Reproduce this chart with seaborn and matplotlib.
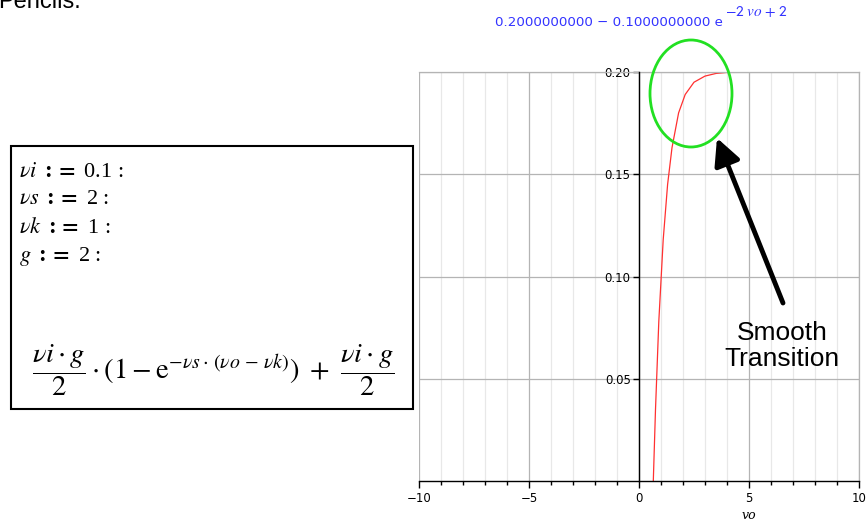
import matplotlib
matplotlib.use("Agg")
import matplotlib.pyplot as plt
import seaborn as sns
from matplotlib.patches import Ellipse, Rectangle, FancyArrowPatch
from matplotlib.ticker import MultipleLocator

# curve points (vo, value)
vo_vals = [0.65, 0.75, 0.9, 1.1, 1.3, 1.5, 1.8, 2.1, 2.5, 3.0, 3.5, 4.0, 10.0]
y_vals = [0.0, 0.035, 0.078, 0.118, 0.145, 0.163, 0.180, 0.189, 0.195, 0.198, 0.1993, 0.1998, 0.2]

x_ticks = [-10, -5, 0, 5, 10]
y_ticks = [0.05, 0.10, 0.15, 0.20]
y_tick_labels = ["0.05", "0.10", "0.15", "0.20"]

title_main = "0.2000000000 \u2212 0.1000000000 e"
title_exp = r"$\mathsf{-2}\ \mathit{vo}\ \mathsf{+\ 2}$"
maple_lines = [
    r"$\mathit{\nu i}$ $\mathbf{:=}$ 0.1 :",
    r"$\mathit{\nu s}$ $\mathbf{:=}$ 2 :",
    r"$\mathit{\nu k}$ $\mathbf{:=}$ 1 :",
    r"$\mathit{g}$ $\mathbf{:=}$ 2 :",
]
formula = (r"$\dfrac{\nu i\cdot g}{2}\cdot\left(1-\mathrm{e}^{-\nu s\cdot\,(\nu o\,-\,\nu k)}\right)"
           r"\ +\ \dfrac{\nu i\cdot g}{2}$")

sns.set_theme(style="white")
plt.rcParams["font.family"] = ["DejaVu Sans"]
plt.rcParams["mathtext.fontset"] = "stix"
plt.rcParams["text.color"] = "black"
plt.rcParams["xtick.color"] = "black"
plt.rcParams["ytick.color"] = "black"

W, H = 866, 525
fig = plt.figure(figsize=(W / 100, H / 100), dpi=100)
ax = fig.add_axes([419 / W, 1 - 481 / H, (859 - 419) / W, (481 - 72) / H])

sns.lineplot(x=vo_vals, y=y_vals, ax=ax, color="#ff3030", linewidth=0.9)

ax.set_xlim(-10, 10)
ax.set_ylim(0, 0.2)
ax.set_xticks(x_ticks)
ax.set_xticklabels([str(t).replace("-", "\u2212") for t in x_ticks])
ax.xaxis.set_minor_locator(MultipleLocator(1))
ax.set_yticks(y_ticks)
ax.set_yticklabels(y_tick_labels)

ax.grid(True, which="major", color="#b4b4b4", linewidth=0.9)
ax.grid(True, which="minor", axis="x", color="#e8e8e8", linewidth=0.9)
ax.set_axisbelow(True)

ax.spines["left"].set_position(("data", 0))
ax.spines["left"].set_color("black")
ax.spines["left"].set_linewidth(1.0)
ax.spines["left"].set_zorder(3)
ax.spines["bottom"].set_color("black")
ax.spines["bottom"].set_linewidth(1.0)
for s in ["top", "right"]:
    ax.spines[s].set_color("#b4b4b4")
    ax.spines[s].set_linewidth(0.9)

ax.tick_params(axis="x", which="major", direction="out", length=5, width=1, color="black",
               labelcolor="black", labelsize=8.5, pad=3, bottom=True)
ax.tick_params(axis="x", which="minor", direction="out", length=3, width=1, color="black", bottom=True)
ax.tick_params(axis="y", which="major", direction="out", length=4, width=1, color="black",
               labelcolor="black", labelsize=8.5, pad=2, left=True)

ax.text(5, -0.085, "vo", transform=ax.get_xaxis_transform(), ha="center", va="center",
        family="DejaVu Serif", style="italic", fontsize=9)

# blue Maple output title, exponent as its own raised text
fig.text(723 / W, 1 - 26 / H, title_main, color="#3333ff", fontsize=9.6, ha="right", va="baseline")
fig.text(725 / W, 1 - 16 / H, title_exp, color="#3333ff", fontsize=11, ha="left", va="baseline")

# partly cut heading at the very top
fig.text(-2 / W, 1 - 8 / H, "Pencils.", fontsize=17, family="Liberation Sans", ha="left", va="baseline")

# Maple input box
fig.add_artist(Rectangle((11 / W, 1 - 409 / H), (413 - 11) / W, (409 - 146) / H,
                         transform=fig.transFigure, fill=False, ec="black", lw=1.5))
for i, line in enumerate(maple_lines):
    fig.text(19 / W, 1 - (172 + 28 * i) / H, line, fontsize=16, ha="left", va="center",
             family="Liberation Serif")
fig.text(32 / W, 1 - 370 / H, formula, fontsize=20.5, ha="left", va="center")

# annotation
fig.add_artist(Ellipse((691 / W, 1 - 93.5 / H), 82 / W, 107 / H, transform=fig.transFigure,
                       fill=False, ec="#22e022", lw=2.0))
fig.add_artist(FancyArrowPatch((783 / W, 1 - 303 / H), (717 / W, 1 - 138 / H),
                               transform=fig.transFigure, arrowstyle="-|>,head_length=0.8,head_width=0.4",
                               mutation_scale=20, color="black", lw=3.5, shrinkA=0, shrinkB=0))
fig.text(782 / W, 1 - 346 / H, "Smooth\nTransition", fontsize=19, family="Liberation Sans",
         ha="center", va="center", linespacing=1.1)

fig.savefig("out.png", dpi=100)
